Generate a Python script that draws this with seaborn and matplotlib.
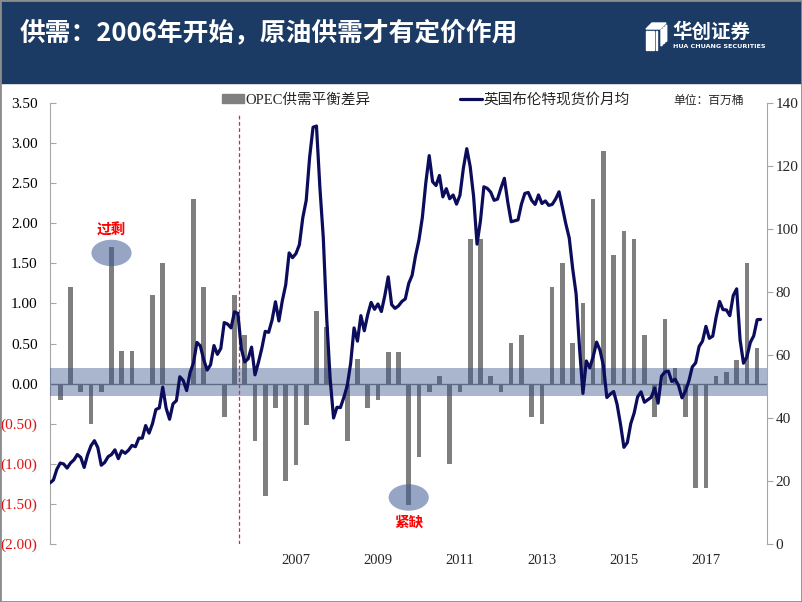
import numpy as np
import matplotlib
matplotlib.use("Agg")
import matplotlib.pyplot as plt
import seaborn as sns
from matplotlib.patches import Rectangle, Ellipse, Polygon
from matplotlib.lines import Line2D

# --- date: Brent lunar (USD/baril), ian 2002 - mai 2019 ---
brent_2002 = [19.4, 20.3, 23.7, 25.7, 25.4, 24.1, 25.7, 26.7, 28.4, 27.5, 24.3, 28.3]
brent_2003 = [31.2, 32.8, 30.6, 25.0, 25.9, 27.7, 28.4, 29.9, 27.1, 29.6, 28.8, 29.8]
brent_2004 = [31.3, 30.9, 33.6, 33.6, 37.6, 35.2, 38.2, 42.7, 43.2, 49.8, 43.1, 39.6]
brent_2005 = [44.5, 45.5, 53.1, 51.9, 48.7, 54.4, 57.5, 64.0, 62.9, 58.5, 55.2, 56.9]
brent_2006 = [63.0, 60.2, 62.1, 70.3, 69.8, 68.6, 73.7, 73.2, 62.0, 57.8, 58.8, 62.5]
brent_2007 = [53.7, 57.6, 62.1, 67.5, 67.2, 71.1, 76.9, 70.8, 77.2, 82.3, 92.4, 90.9]
brent_2008 = [92.2, 95.0, 103.6, 109.1, 122.8, 132.3, 132.7, 113.2, 97.2, 71.6, 52.5, 40.0]
brent_2009 = [43.4, 43.3, 46.5, 50.2, 57.3, 68.6, 64.4, 72.5, 67.7, 72.8, 76.7, 74.5]
brent_2010 = [76.2, 73.8, 78.8, 84.8, 76.0, 74.8, 75.6, 77.0, 77.8, 82.7, 85.3, 91.5]
brent_2011 = [96.5, 103.7, 114.6, 123.3, 115.0, 113.8, 117.0, 110.2, 112.8, 109.6, 110.8, 107.9]
brent_2012 = [110.7, 119.3, 125.5, 119.8, 110.3, 95.2, 102.6, 113.4, 112.9, 111.7, 109.1, 109.5]
brent_2013 = [113.0, 116.1, 108.5, 102.3, 102.6, 102.9, 107.9, 111.3, 111.6, 109.1, 107.8, 110.8]
brent_2014 = [108.1, 108.9, 107.5, 107.8, 109.5, 111.8, 106.8, 101.6, 97.1, 87.4, 79.4, 62.3]
brent_2015 = [47.8, 58.1, 55.9, 59.5, 64.1, 61.5, 56.6, 46.5, 47.6, 48.4, 44.3, 38.0]
brent_2016 = [30.7, 32.2, 38.2, 41.6, 46.7, 48.3, 45.0, 45.8, 46.6, 49.5, 44.7, 53.3]
brent_2017 = [54.6, 54.9, 51.6, 52.3, 50.3, 46.4, 48.5, 51.7, 56.2, 57.5, 62.7, 64.4]
brent_2018 = [69.1, 65.3, 66.0, 72.1, 77.0, 74.4, 74.3, 72.5, 78.9, 81.0, 64.8, 57.4]
brent_2019 = [59.4, 64.0, 66.1, 71.2, 71.3]

brent = (brent_2002 + brent_2003 + brent_2004 + brent_2005 + brent_2006 + brent_2007
         + brent_2008 + brent_2009 + brent_2010 + brent_2011 + brent_2012 + brent_2013
         + brent_2014 + brent_2015 + brent_2016 + brent_2017 + brent_2018 + brent_2019)
brent_t = 2002 + np.arange(len(brent)) / 12

# --- date: diferenta cerere/oferta OPEC, trimestrial (milioane barili) ---
opec_gap = [-0.20, 1.20, -0.11, -0.50, -0.11, 1.70, 0.41, 0.41, 0.00, 1.11,
            1.50, 0.00, 0.00, 2.30, 1.20, 0.00, -0.41, 1.11, 0.61, -0.71,
            -1.40, -0.30, -1.21, -1.01, -0.51, 0.91, 0.71, 0.00, -0.71, 0.31,
            -0.30, -0.21, 0.40, 0.40, -1.51, -0.91, -0.11, 0.10, -1.00, -0.11,
            1.80, 1.80, 0.10, -0.11, 0.51, 0.61, -0.41, -0.50, 1.20, 1.50,
            0.51, 1.01, 2.30, 2.90, 1.61, 1.90, 1.80, 0.61, -0.41, 0.81,
            0.20, -0.41, -1.30, -1.30, 0.10, 0.15, 0.30, 1.50, 0.44]
opec_t = 2002.25 + 0.25 * np.arange(len(opec_gap))

year_ticks = [2008, 2010, 2012, 2014, 2016, 2018]
year_labels = ['2007', '2009', '2011', '2013', '2015', '2017']
left_ticks = [3.5, 3.0, 2.5, 2.0, 1.5, 1.0, 0.5, 0.0, -0.5, -1.0, -1.5, -2.0]
right_ticks = [0, 20, 40, 60, 80, 100, 120, 140]

TITLE = '供需：2006年开始，原油供需才有定价作用'
BAR_NAME = 'OPEC供需平衡差异'
LINE_NAME = '英国布伦特现货价月均'

# --- stil ---
sns.set_style('white')
SERIF = ['Liberation Serif', 'Noto Sans CJK SC']
SANS = ['Noto Sans CJK SC', 'DejaVu Sans']
plt.rcParams['font.family'] = SERIF

W, H = 802, 602
fig = plt.figure(figsize=(W / 100, H / 100), dpi=100)


def px(x, y):
    return (x / W, 1 - y / H)


ax = fig.add_axes([50 / W, 1 - 544 / H, 717 / W, 441 / H])

# bare
sns.barplot(x=opec_t, y=opec_gap, native_scale=True, width=0.45, color='#7f7f7f',
            saturation=1, errorbar=None, ax=ax, zorder=2, linewidth=0)
ax.axhline(0, color='#7f7f7f', lw=1, zorder=2)
ax.axhspan(-0.15, 0.19, color=(0.19, 0.31, 0.53), alpha=0.41, lw=0, zorder=3)

# elipse + adnotari
for cx, cy, ty, txt in [(2003.5, 1.63, 1.92, '过剩'), (2010.75, -1.42, -1.72, '紧缺')]:
    ax.add_patch(Ellipse((cx, cy), 0.98, 0.33, color=(0.25, 0.36, 0.58),
                         alpha=0.55, lw=0, zorder=4))
    ax.text(cx, ty, txt, color='#ff0000', fontsize=10.5, fontweight='bold',
            ha='center', va='center', family=SANS, zorder=5)

ax.vlines(2006.62, -2.0, 3.38, colors='#d03030', linestyles=(0, (3, 2)), lw=0.9, zorder=4)

ax.set_ylim(-2.0, 3.5)
ax.set_yticks(left_ticks)
ax.set_yticklabels([f'{v:.2f}' if v >= 0 else f'({abs(v):.2f})' for v in left_ticks],
                   fontsize=11)
for lab, v in zip(ax.get_yticklabels(), left_ticks):
    lab.set_color('#000000' if v >= 0 else '#e01010')

# linia Brent
ax2 = ax.twinx()
sns.lineplot(x=brent_t, y=brent, ax=ax2, color='#0c0c5c', lw=2.3, zorder=6)
ax2.set_ylim(0, 140)
ax2.set_yticks(right_ticks)
ax2.set_yticklabels([str(v) for v in right_ticks], fontsize=11)
ax2.set_ylabel('')

ax.set_xlim(2002.0, 2019.49)
ax.set_xticks(year_ticks)
ax.set_xticklabels(year_labels, fontsize=10.5)
ax.set_xlabel('')

for a in (ax, ax2):
    for s in ('top', 'bottom'):
        a.spines[s].set_visible(False)
ax.spines['right'].set_visible(False)
ax.spines['left'].set_color('#a6a6a6')
ax2.spines['left'].set_visible(False)
ax2.spines['right'].set_color('#a6a6a6')
ax.tick_params(axis='x', length=0, pad=7)
ax.tick_params(axis='y', direction='in', length=4, color='#a6a6a6', pad=9)
ax2.tick_params(axis='y', direction='out', length=4, color='#a6a6a6', pad=2)

# legenda
bar_h = Rectangle((0, 0), 1, 1, color='#808080')
line_h = Line2D([], [], color='#0c0c5c', lw=2.3)
for h, name, x in [(bar_h, BAR_NAME, 222), (line_h, LINE_NAME, 460)]:
    fig.legend([h], [name], loc='center left', bbox_to_anchor=px(x, 100),
               frameon=False, borderpad=0, borderaxespad=0, handlelength=1.5,
               handleheight=0.6, handletextpad=0.1, prop={'family': SERIF, 'size': 10.5})
fig.text(*px(673, 101), '单位：百万桶', fontsize=8.5, va='center', family=SERIF)

# antet
fig.patches.append(Rectangle(px(0, 83), 1, 83 / H, transform=fig.transFigure,
                             color='#1b3a64', zorder=0))
fig.text(*px(20, 33), TITLE, color='white', fontsize=18.5, fontweight='bold',
         va='center', family=SANS)

# logo
stripes = []
for i in range(4):
    x0 = 646 + 3.2 * i
    stripes.append([px(x0, 31), px(x0 + 1.8, 31), px(x0 + 1.8, 50), px(x0, 50)])
stripes.append([px(646, 29), px(652, 23), px(666, 23), px(660, 29)])
for i in range(3):
    x0 = 661 + 2.2 * i
    stripes.append([px(x0, 30 - 2 * i), px(x0 + 1.3, 29 - 2 * i), px(x0 + 1.3, 45 - 2 * i), px(x0, 46 - 2 * i)])
for pts in stripes:
    fig.patches.append(Polygon(pts, closed=True, transform=fig.transFigure,
                               color='white', zorder=1))
fig.text(*px(672, 32), '华创证券', color='white', fontsize=14, fontweight='bold',
         va='center', family=SANS)
fig.text(*px(673, 46), 'HUA CHUANG SECURITIES', color='white', fontsize=4.6,
         fontweight='bold', va='center', family=['DejaVu Sans'])

# chenar
fig.patches.append(Rectangle((0, 0), 1, 1, transform=fig.transFigure, fill=False,
                             edgecolor='#8c8c8c', lw=2, zorder=2))

fig.savefig('out.png', dpi=100)
plt.close(fig)
